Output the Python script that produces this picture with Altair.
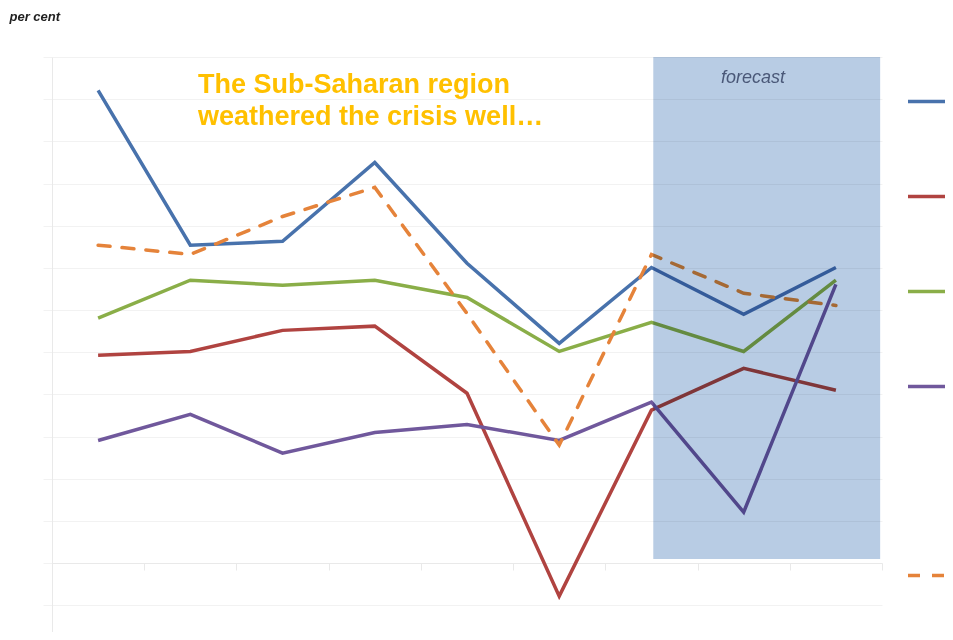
import altair as alt
import pandas as pd

# ---- data (x = period index, y = per cent) ----
periods = [0, 1, 2, 3, 4, 5, 6, 7, 8]
series_solid = ["Series 1", "Series 2", "Series 3", "Series 4"]
colors_solid = ["#4872AC", "#B04340", "#8AAE48", "#70589C"]
blue = [11.21, 7.54, 7.63, 9.50, 7.11, 5.21, 7.01, 5.90, 7.01]
red = [4.93, 5.02, 5.52, 5.62, 4.03, -0.78, 3.63, 4.62, 4.10]
green = [5.81, 6.71, 6.59, 6.71, 6.30, 5.02, 5.71, 5.02, 6.71]
purple = [2.91, 3.53, 2.61, 3.10, 3.29, 2.91, 3.82, 1.21, 6.61]
series_dashed = "Series 5"
color_dashed = "#E5833A"
orange = [7.54, 7.32, 8.22, 8.91, 5.92, 2.80, 7.32, 6.40, 6.11]

forecast_start = [6.02]
forecast_end = [8.48]
forecast_low = [0.1]
forecast_high = [12]

title_lines = ["The Sub-Saharan region", "weathered the crisis well…"]
forecast_label = "forecast"

# ---- tables ----
rows = []
for name, vals in zip(series_solid, [blue, red, green, purple]):
    for p, v in zip(periods, vals):
        rows.append({"series": name, "period": p, "value": v})
solid_df = pd.DataFrame(rows)
dash_df = pd.DataFrame({"series": series_dashed, "period": periods, "value": orange})
fc_df = pd.DataFrame({"start": forecast_start, "end": forecast_end,
                      "low": forecast_low, "high": forecast_high})

GRID = "#f2f2f2"
DOMAIN = "#e9e9e9"
FONT = "Liberation Sans"

xscale = alt.Scale(domain=[-0.5, 8.5], nice=False, zero=False)
yscale = alt.Scale(domain=[-1.63, 12], nice=False, zero=False)

x_enc = alt.X("period:Q", scale=xscale,
              axis=alt.Axis(values=[i - 0.5 for i in range(10)], labels=False,
                            tickSize=7, tickColor=DOMAIN, domainColor=DOMAIN,
                            grid=False, offset=-69, title=None))
y_enc = alt.Y("value:Q", scale=yscale,
              axis=alt.Axis(values=list(range(-1, 13)), labels=False, tickSize=9,
                            tickColor=GRID, domainColor=DOMAIN, gridColor=GRID,
                            grid=True, title="per cent", titleAngle=0,
                            titleX=-43, titleY=-37, titleAlign="left",
                            titleBaseline="alphabetic", titleFont=FONT,
                            titleFontStyle="italic", titleFontWeight="bold",
                            titleFontSize=13, titleColor="#222222"))

solid = alt.Chart(solid_df).mark_line(strokeWidth=3.5).encode(
    x=x_enc,
    y=y_enc,
    color=alt.Color("series:N",
                    scale=alt.Scale(domain=series_solid, range=colors_solid),
                    legend=alt.Legend(orient="none", legendX=854, legendY=15,
                                      title=None, symbolType="stroke",
                                      symbolSize=3025, symbolStrokeWidth=3.5,
                                      labelExpr="''", rowPadding=58, padding=0)),
)

dashed = alt.Chart(dash_df).mark_line(strokeWidth=3.5, color=color_dashed,
                                      strokeCap="round").encode(
    x=alt.X("period:Q", scale=xscale),
    y=alt.Y("value:Q", scale=yscale),
    strokeDash=alt.StrokeDash("series:N",
                              scale=alt.Scale(domain=[series_dashed], range=[[12, 12]]),
                              legend=alt.Legend(orient="none", legendX=854, legendY=489,
                                                title=None, symbolType="stroke",
                                                symbolSize=3025, symbolStrokeWidth=3.5,
                                                symbolStrokeColor=color_dashed,
                                                labelExpr="''", padding=0)),
)

rect = alt.Chart(fc_df).mark_rect(color="#b8cce4", blend="multiply").encode(
    x=alt.X("start:Q", scale=xscale), x2="end:Q",
    y=alt.Y("low:Q", scale=yscale), y2="high:Q",
)

fc_text = alt.Chart(fc_df).mark_text(font=FONT, fontSize=18, fontStyle="italic",
                                     color="#4a5878", align="center",
                                     baseline="alphabetic").encode(
    x=alt.value(701), y=alt.value(26), text=alt.value(forecast_label))

title_text = alt.Chart(fc_df).mark_text(font=FONT, fontSize=27, fontWeight="bold",
                                        color="#FFC000", align="left",
                                        baseline="alphabetic", lineHeight=32).encode(
    x=alt.value(146), y=alt.value(36), text=alt.value(title_lines))

chart = alt.layer(solid, dashed, rect, fc_text, title_text).properties(
    width=830, height=575,
    padding={"left": 44, "top": 49, "right": 63, "bottom": 0},
    autosize=alt.AutoSizeParams(type="none"),
    background="white",
).configure_view(stroke=None)

chart.save("out.html", embed_options={"renderer": "svg", "actions": False})
